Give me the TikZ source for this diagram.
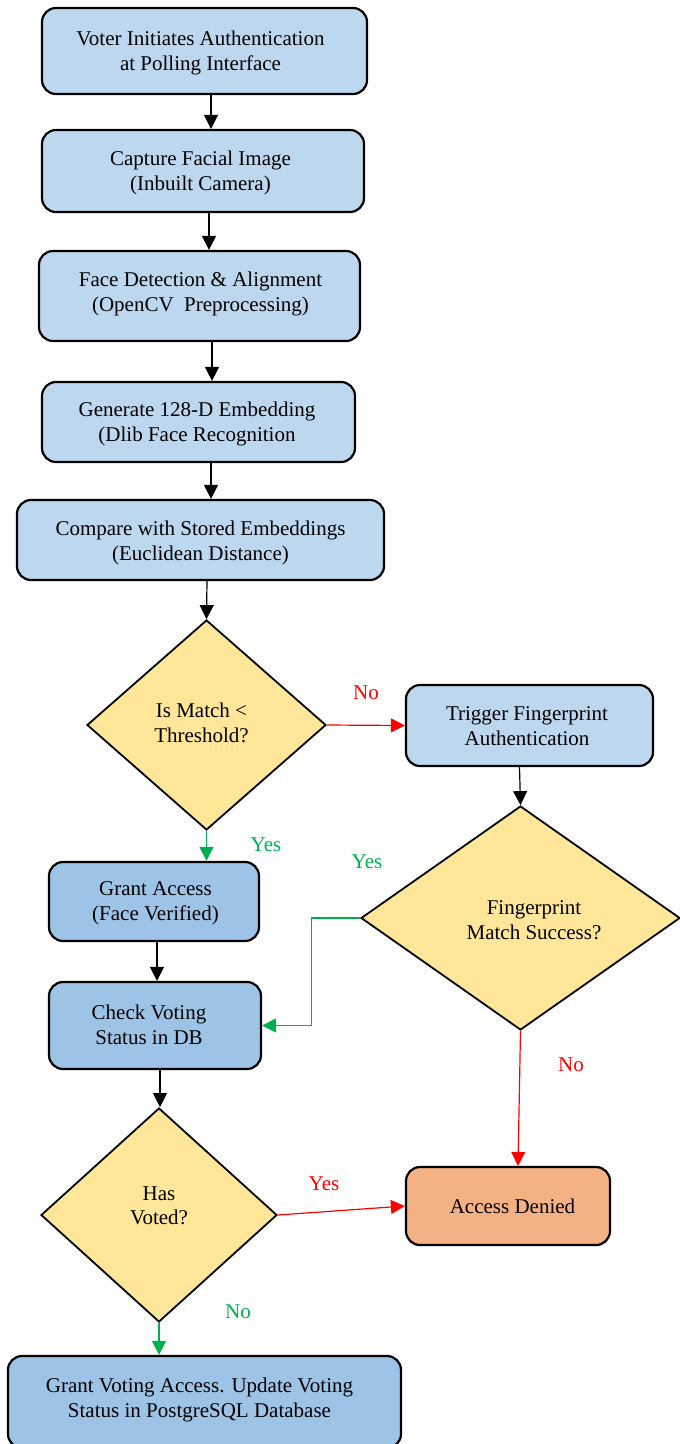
\documentclass[tikz,border=0pt]{standalone}
\usepackage{fontspec}
\setmainfont{Liberation Serif}
\usetikzlibrary{shapes.geometric,arrows.meta}
\definecolor{lblue}{HTML}{BDD7EE}
\definecolor{mblue}{HTML}{9DC3E6}
\definecolor{dyel}{HTML}{FFE699}
\definecolor{dorange}{HTML}{F4B183}
\definecolor{gr}{HTML}{00B050}
\definecolor{rd}{HTML}{FF0000}
\begin{document}
\begin{tikzpicture}[x=1pt,y=-1pt,
 box/.style={draw=black, line width=2.2pt, rounded corners=14pt, fill=lblue, align=center, font=\fontsize{21}{24.5}\selectfont, inner sep=0pt},
 dia/.style={draw=black, line width=1.8pt, diamond, fill=dyel, inner sep=0pt},
 txt/.style={align=center, font=\fontsize{21}{24.5}\selectfont, inner sep=0pt},
 lbl/.style={font=\fontsize{21}{24.5}\selectfont, inner sep=0pt},
 arr/.style={line width=1.2pt, -{Triangle[length=14pt,width=14pt]}}
]
\useasboundingbox (0,0) rectangle (680,1444);
% nodes
\node[box, minimum width=325, minimum height=86] (v) at (204.5,51) {};
\node[txt] (vt) at (200.5,53) {Voter Initiates Authentication\\at Polling Interface};
\node[box, minimum width=322, minimum height=82] (c) at (203,171) {};
\node[txt] (ct) at (200.5,173) {Capture Facial Image\\(Inbuilt Camera)};
\node[box, minimum width=321, minimum height=90] (fd) at (199.5,296) {};
\node[txt] (fdt) at (200.5,294) {Face Detection \& Alignment\\(OpenCV\ \ Preprocessing)};
\node[box, minimum width=313, minimum height=80] (ge) at (198.5,422) {};
\node[txt] (get) at (197,424) {Generate 128-D Embedding\\(Dlib Face Recognition};
\node[box, minimum width=367, minimum height=80] (cm) at (200.5,540) {};
\node[txt] (cmt) at (200.5,543) {Compare with Stored Embeddings\\(Euclidean Distance)};
\node[dia, minimum width=239, minimum height=210] (d1) at (206.5,725) {};
\node[txt] (d1t) at (201.5,723) {Is Match <\\Threshold?};
\node[box, minimum width=247, minimum height=81] (t) at (529.5,725.5) {};
\node[txt] (tt) at (527,726) {Trigger Fingerprint\\Authentication};
\node[dia, minimum width=319, minimum height=224] (f) at (520.5,918) {};
\node[txt] (ft) at (534,920) {Fingerprint\\Match Success?};
\node[box, fill=mblue, minimum width=210, minimum height=79] (ga) at (154,901.5) {};
\node[txt] (gat) at (155.5,903.5) {Grant Access\\(Face Verified)};
\node[box, fill=mblue, minimum width=212, minimum height=87] (ch) at (155,1025.5) {};
\node[txt] (cht) at (149,1025) {Check Voting\\Status in DB};
\node[dia, minimum width=236, minimum height=214] (hv) at (159,1215) {};
\node[txt] (hvt) at (159,1206) {Has\\Voted?};
\node[box, fill=dorange, minimum width=204, minimum height=78] (ad) at (508,1206) {};
\node[txt] (adt) at (512.5,1206) {Access Denied};
\node[box, fill=mblue, minimum width=393, minimum height=92] (gv) at (204.5,1402) {};
\node[txt] (gvt) at (199.5,1400) {Grant Voting Access. Update Voting\\Status in PostgreSQL Database};
% connectors
\draw[arr] ([xshift=6.5pt]v.south) -- ([xshift=6.5pt]v.south |- c.north);
\draw[arr] ([xshift=6pt]c.south) -- ([xshift=6pt]c.south |- fd.north);
\draw[arr] ([xshift=12.5pt]fd.south) -- ([xshift=12.5pt]fd.south |- ge.north);
\draw[arr] ([xshift=12.5pt]ge.south) -- ([xshift=12.5pt]ge.south |- cm.north);
\draw[arr] ([xshift=6.5pt]cm.south) -- (d1.north);
\draw[arr, rd] (d1.east) -- (t.west);
\draw[arr] ([xshift=-10pt]t.south) -- (f.north);
\draw[arr, gr] (d1.south) -- (d1.south |- ga.north);
\draw[arr, gr] (f.west) -- ++(-49,0) |- (ch.east);
\draw[arr] ([xshift=3pt]ga.south) -- ([xshift=3pt]ga.south |- ch.north);
\draw[arr] ([xshift=5pt]ch.south) -- ([xshift=5pt]ch.south |- hv.north);
\draw[arr, rd] (f.south) -- ([xshift=10pt]ad.north);
\draw[arr, rd] (hv.east) -- (ad.west);
\draw[arr, gr] (hv.south) -- (hv.south |- gv.north);
% labels
\node[lbl, text=rd] (l1) at (366,693) {No};
\node[lbl, text=gr] (l2) at (266,845) {Yes};
\node[lbl, text=gr] (l3) at (367,862) {Yes};
\node[lbl, text=rd] (l4) at (571,1065) {No};
\node[lbl, text=rd] (l5) at (324,1184) {Yes};
\node[lbl, text=gr] (l6) at (238,1312) {No};
\end{tikzpicture}
\end{document}
